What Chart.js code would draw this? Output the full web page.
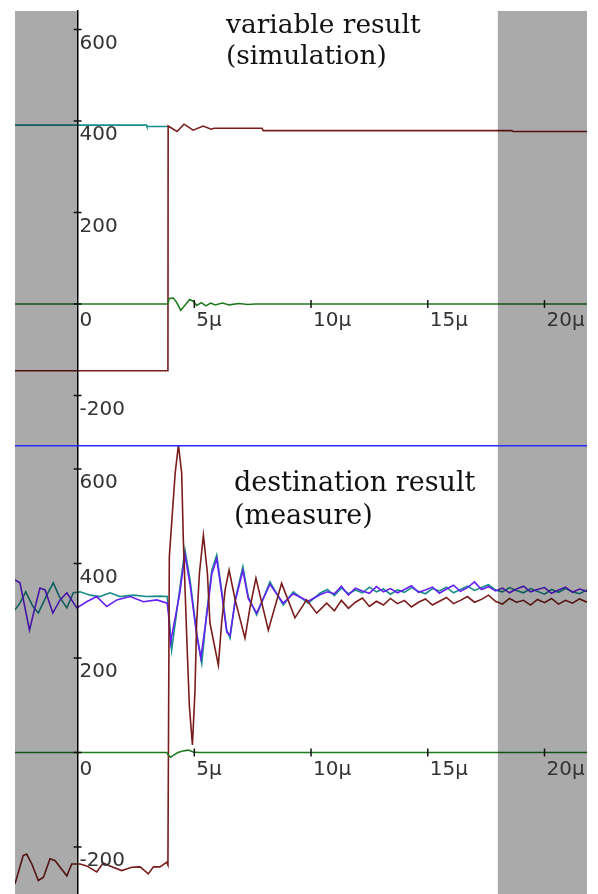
<!DOCTYPE html>
<html lang="en">
<head>
    <meta charset="UTF-8">
    <title>variable / destination result</title>
    <script src="https://cdn.jsdelivr.net/npm/chart.js"></script>
    <style>
        body {
            margin: 0;
            background: #fff;
        }
        .scope {
            position: relative;
            width: 598px;
            height: 894px;
            overflow: hidden;
        }
        .scope canvas {
            position: absolute;
            left: 0;
        }
        .note {
            position: absolute;
            font-family: "DejaVu Serif", serif;
            font-size: 27px;
            line-height: 31px;
            color: #111;
            white-space: nowrap;
        }
    </style>
</head>
<body>
    <div class="scope">
        <canvas id="simChart" width="598" height="445" style="top:0"></canvas>
        <canvas id="measChart" width="598" height="449" style="top:445px"></canvas>
        <div class="note" style="left:226px; top:8px; font-size:26.4px">variable result<br>(simulation)</div>
        <div class="note" style="left:234px; top:465px; line-height:33px">destination result<br>(measure)</div>
    </div>
    <script>
        // time axis in µs
        const tMin = -2.68;
        const tMax = 21.82;
        const shadedSpans = [[-2.68, 0], [18, 21.82]];

        // simulation panel
        const simRedT = [-2.68, 3.87, 3.88, 4.26, 4.56, 4.95, 5.38, 5.72, 5.85, 7.90, 7.95, 18.6, 18.65, 21.82];
        const simRed  = [-146, -146, 389, 377, 393, 380, 389, 382, 384, 384, 379, 379, 377, 377];
        const simTealT = [-2.68, 2.95, 2.97, 3.87];
        const simTeal  = [391, 391, 388, 388];
        const simGreenT = [-2.68, 3.87, 3.92, 4.10, 4.25, 4.42, 4.60, 4.80, 4.95, 5.10, 5.30, 5.50, 5.70, 5.90, 6.20, 6.50, 6.90, 7.30, 7.60, 21.82];
        const simGreen  = [0, 0, 12, 13, 3, -14, -3, 10, 6, -3, 3, -4, 2, -2, 2, -2, 1, -1, 0, 0];

        // measurement panel
        const measRedT = [-2.68, -2.33, -2.18, -1.96, -1.68, -1.46, -1.18, -0.96, -0.68, -0.46,
            -0.25, 0.11, 0.39, 0.82, 1.10, 1.39, 1.89, 2.32, 2.68, 3.03,
            3.25, 3.53, 3.82, 3.87,
            3.93, 4.18, 4.32, 4.46, 4.53, 4.68, 4.79, 4.92, 5.03, 5.10,
            5.22, 5.39, 5.56, 5.67, 6.03, 6.17, 6.32, 6.49, 6.75, 7.17,
            7.39, 7.64, 8.17, 8.74, 9.31, 9.81, 10.24, 10.67,
            11.0, 11.3, 11.6, 11.9, 12.2, 12.5, 12.8, 13.1, 13.4, 13.7,
            14.0, 14.3, 14.6, 14.9, 15.2, 15.5, 15.8, 16.1, 16.4, 16.7,
            17.0, 17.3, 17.6, 17.9, 18.2, 18.5, 18.8, 19.1, 19.4, 19.7,
            20.0, 20.3, 20.6, 20.9, 21.2, 21.5, 21.82];
        const measRed = [-278, -218, -215, -236, -271, -264, -225, -229, -247, -261,
            -236, -236, -240, -253, -234, -240, -250, -243, -242, -257,
            -242, -242, -232, -238,
            414, 591, 651, 591, 450, 238, 97, 16, 132, 274,
            380, 460, 380, 274, 185, 274, 344, 386, 323, 242,
            308, 369, 259, 358, 285, 323, 295, 316,
            300, 322, 305, 318, 327, 309, 320, 312, 326, 315,
            322, 308, 318, 325, 312, 320, 328, 315, 322, 330,
            318, 324, 333, 320, 314, 326, 318, 322, 312, 324,
            317, 326, 314, 322, 316, 325, 318];

        const measTailT = [10.7, 11.0, 11.3, 11.6, 11.9, 12.2, 12.5, 12.8, 13.1, 13.4,
            13.7, 14.0, 14.3, 14.6, 14.9, 15.2, 15.5, 15.8, 16.1, 16.4,
            16.7, 17.0, 17.3, 17.6, 17.9, 18.2, 18.5, 18.8, 19.1, 19.4,
            19.7, 20.0, 20.3, 20.6, 20.9, 21.2, 21.5, 21.82];

        const measTealT = [-2.68, -2.47, -2.22, -1.91, -1.68, -1.32, -1.04, -0.78, -0.46, -0.18,
            0.11, 0.54, 0.96, 1.39, 1.82, 2.39, 2.96, 3.53, 3.84, 3.90,
            4.03, 4.37, 4.60, 4.82, 5.10, 5.32, 5.53, 5.75, 5.96, 6.17,
            6.39, 6.53, 6.75, 7.08, 7.31, 7.67, 8.24, 8.81, 9.24, 9.88,
            10.38].concat(measTailT);
        const measTeal = [302, 316, 340, 309, 295, 333, 359, 330, 306, 338,
            340, 333, 330, 338, 330, 333, 330, 331, 330, 300,
            217, 344, 429, 365, 253, 189, 295, 386, 418, 344,
            259, 242, 323, 393, 330, 291, 361, 312, 340, 316,
            337,
            345, 332, 348, 336, 344, 338, 350, 340, 346, 335,
            344, 339, 349, 341, 336, 347, 342, 350, 338, 345,
            352, 343, 349, 355, 344, 340, 349, 343, 338, 347,
            341, 335, 345, 339, 347, 340, 336, 344];

        const measPurpleT = [-2.68, -2.47, -2.32, -2.06, -1.82, -1.61, -1.39, -1.06, -0.75, -0.46,
            -0.03, 0.39, 0.82, 1.25, 1.68, 2.25, 2.82, 3.39, 3.84, 3.90,
            3.98, 4.37, 4.60, 4.82, 5.10, 5.28, 5.53, 5.75, 5.96, 6.17,
            6.39, 6.53, 6.75, 7.08, 7.31, 7.67, 8.24, 8.81, 9.24, 9.88,
            10.38].concat(measTailT);
        const measPurple = [365, 359, 323, 259, 308, 348, 344, 295, 323, 338,
            306, 319, 330, 309, 323, 330, 319, 323, 316, 290,
            232, 335, 418, 355, 250, 200, 290, 378, 410, 338,
            255, 248, 320, 385, 326, 295, 356, 316, 336, 320,
            334,
            340, 336, 352, 333, 348, 342, 337, 351, 340, 347,
            338, 345, 353, 339, 344, 350, 337, 346, 354, 341,
            349, 361, 345, 351, 342, 348, 338, 346, 352, 340,
            345, 349, 337, 344, 350, 339, 346, 341];

        const measGreenT = [-2.68, 3.82, 3.90, 3.98, 4.10, 4.30, 4.50, 4.75, 4.95, 5.20, 21.82];
        const measGreen  = [0, 0, -6, -10, -6, 0, 3, 5, 1, 0, 0];

        const RED = '#7a1c1c';
        const TEAL = '#1a8c8c';
        const PURPLE = '#6620f5';
        const GREEN = '#1f7a1f';

        function pts(ts, vs) {
            return ts.map((t, i) => ({ x: t, y: vs[i] }));
        }

        function trace(data, color) {
            return {
                data: data,
                borderColor: color,
                borderWidth: 1.6,
                pointRadius: 0,
                tension: 0,
                fill: false
            };
        }

        // grey regions outside the capture window, laid over the traces
        const shadePlugin = {
            id: 'shade',
            afterDatasetsDraw(chart) {
                const { ctx, chartArea, scales: { x } } = chart;
                ctx.save();
                ctx.fillStyle = 'rgba(0, 0, 0, 0.333)';
                shadedSpans.forEach(([a, b]) => {
                    const x1 = x.getPixelForValue(a);
                    const x2 = x.getPixelForValue(b);
                    ctx.fillRect(x1, chartArea.top, x2 - x1, chartArea.bottom - chartArea.top);
                });
                ctx.restore();
            }
        };

        // tick marks crossing the axes, labels on the right / below
        const axisMarks = {
            id: 'axisMarks',
            afterDraw(chart) {
                const { ctx, scales: { x, y } } = chart;
                const x0 = x.getPixelForValue(0);
                const y0 = y.getPixelForValue(0);
                ctx.save();
                ctx.strokeStyle = '#111';
                ctx.lineWidth = 1.5;
                ctx.fillStyle = '#333';
                ctx.font = '20px "DejaVu Sans"';
                ctx.textAlign = 'left';
                ctx.textBaseline = 'middle';
                y.ticks.forEach(t => {
                    const py = y.getPixelForValue(t.value);
                    ctx.beginPath();
                    ctx.moveTo(x0 - 4, py);
                    ctx.lineTo(x0 + 4, py);
                    ctx.stroke();
                    if (t.value !== 0) ctx.fillText(t.label, x0 + 2, py + 14);
                });
                x.ticks.forEach(t => {
                    const px = x.getPixelForValue(t.value);
                    if (t.value !== 0) {
                        ctx.beginPath();
                        ctx.moveTo(px, y0 - 4);
                        ctx.lineTo(px, y0 + 4);
                        ctx.stroke();
                    }
                    ctx.fillText(t.label, px + 2, y0 + 17);
                });
                ctx.restore();
            }
        };

        // blue divider along the top of the measurement panel
        const divider = {
            id: 'divider',
            afterDraw(chart) {
                const { ctx, chartArea } = chart;
                ctx.save();
                ctx.strokeStyle = '#2828ff';
                ctx.lineWidth = 2;
                ctx.beginPath();
                ctx.moveTo(chartArea.left, chartArea.top + 0.5);
                ctx.lineTo(chartArea.right, chartArea.top + 0.5);
                ctx.stroke();
                ctx.restore();
            }
        };

        function makeOptions(yMin, yMax, padding) {
            return {
                responsive: false,
                animation: false,
                layout: { padding: padding },
                plugins: {
                    legend: { display: false },
                    tooltip: { enabled: false }
                },
                scales: {
                    x: {
                        type: 'linear',
                        min: tMin,
                        max: tMax,
                        position: { y: 0 },
                        grid: { display: false },
                        border: { display: false },
                        ticks: {
                            display: false,
                            stepSize: 5,
                            includeBounds: false,
                            callback: v => v === 0 ? '0' : v + 'µ'
                        }
                    },
                    y: {
                        type: 'linear',
                        min: yMin,
                        max: yMax,
                        position: { x: 0 },
                        grid: { display: true, drawOnChartArea: false, drawTicks: false },
                        border: { display: true, color: '#000', width: 1.5, z: 1 },
                        ticks: {
                            display: false,
                            stepSize: 200,
                            includeBounds: false
                        }
                    }
                }
            };
        }

        new Chart(document.getElementById('simChart'), {
            type: 'line',
            data: {
                datasets: [
                    trace(pts(simGreenT, simGreen), GREEN),
                    trace(pts(simRedT, simRed), RED),
                    trace(pts(simTealT, simTeal), TEAL)
                ]
            },
            options: makeOptions(-308.2, 640.4, { left: 15, right: 11, top: 11, bottom: 0 }),
            plugins: [shadePlugin, axisMarks]
        });

        new Chart(document.getElementById('measChart'), {
            type: 'line',
            data: {
                datasets: [
                    trace(pts(measGreenT, measGreen), GREEN),
                    trace(pts(measRedT, measRed), RED),
                    trace(pts(measPurpleT, measPurple), PURPLE),
                    trace(pts(measTealT, measTeal), TEAL)
                ]
            },
            options: makeOptions(-299.5, 650.8, { left: 15, right: 11, top: 0, bottom: 0 }),
            plugins: [shadePlugin, axisMarks, divider]
        });
    </script>
</body>
</html>
